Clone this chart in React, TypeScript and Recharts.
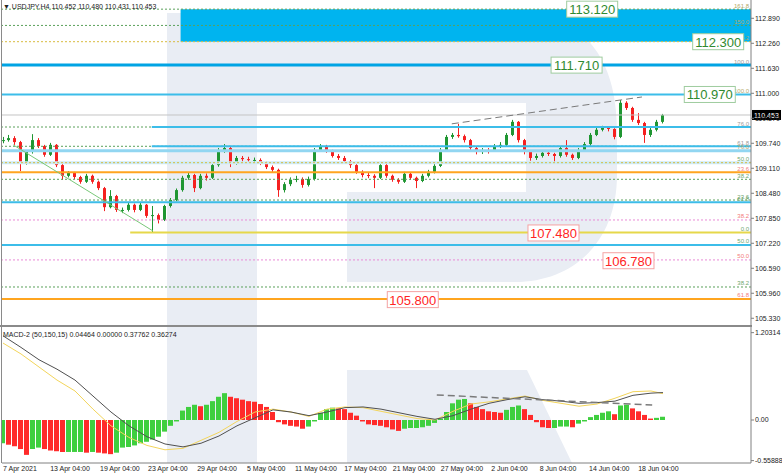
import React from "react";
import {
  ComposedChart,
  Bar,
  Line,
  XAxis,
  YAxis,
  ReferenceLine,
  ReferenceArea,
  ReferenceDot,
  Cell,
} from "recharts";

const FONT = "'Liberation Sans', 'DejaVu Sans', Arial, sans-serif";

// USDJPY H4 candles, thinned out
const firstOpen = 109.8;
const closes = [
  109.82, 109.87, 109.77, 109.24, 109.52, 109.82, 109.67, 109.45, 109.7, 109.19,
  108.92, 108.99, 108.89, 108.77, 108.92, 108.77, 108.61, 108.13, 108.41, 108.06,
  108.06, 108.19, 108.06, 108.19, 107.91, 107.93, 107.81, 108.16, 108.31, 108.56,
  108.87, 108.94, 108.61, 108.92, 108.87, 109.19, 109.57, 109.62, 109.24, 109.37,
  109.34, 109.32, 109.32, 109.24, 109.14, 109.07, 108.56, 108.71, 108.82, 108.84,
  108.69, 108.84, 109.57, 109.67, 109.55, 109.42, 109.37, 109.29, 109.19, 109.02,
  108.94, 108.92, 108.87, 109.19, 108.92, 108.82, 108.77, 108.97, 108.87, 108.79,
  108.92, 109.02, 109.17, 109.57, 109.9, 109.95, 109.92, 109.82, 109.62, 109.52,
  109.57, 109.55, 109.67, 109.7, 109.95, 110.28, 109.82, 109.52, 109.37, 109.42,
  109.5, 109.47, 109.42, 109.62, 109.45, 109.37, 109.57, 109.72, 109.95, 110.08,
  110.13, 110.1, 109.9, 110.76, 110.63, 110.33, 110.25, 109.95, 110.08, 110.28,
  110.45,
];
const highs = [
  109.9, 109.95, 109.92, 109.8, 109.57, 109.97, 109.87, 109.7, 109.75, 109.72,
  109.22, 109.04, 109.02, 108.92, 108.97, 108.95, 108.8, 108.64, 108.56, 108.44,
  108.12, 108.26, 108.22, 108.26, 108.21, 108.16, 107.97, 108.19, 108.36, 108.6,
  108.92, 109.0, 108.97, 108.97, 108.98, 109.24, 109.62, 109.72, 109.65, 109.42,
  109.42, 109.4, 109.38, 109.36, 109.28, 109.18, 109.1, 108.76, 108.88, 108.92,
  108.88, 108.9, 109.62, 109.72, 109.7, 109.58, 109.47, 109.42, 109.32, 109.22,
  109.06, 109.0, 108.96, 109.24, 109.22, 108.95, 108.86, 109.02, 109.0, 108.9,
  108.97, 109.07, 109.22, 109.62, 109.95, 110.0, 110.23, 109.96, 109.85, 109.66,
  109.62, 109.62, 109.72, 109.77, 110.0, 110.33, 110.3, 109.85, 109.55, 109.48,
  109.55, 109.54, 109.5, 109.67, 109.82, 109.48, 109.62, 109.77, 110.0, 110.13,
  110.18, 110.17, 110.12, 110.83, 110.8, 110.66, 110.5, 110.28, 110.13, 110.33,
  110.48,
];
const lows = [
  109.74, 109.78, 109.7, 109.04, 109.2, 109.48, 109.62, 109.4, 109.42, 109.14,
  108.82, 108.88, 108.84, 108.72, 108.74, 108.72, 108.56, 108.03, 108.1, 108.01,
  107.98, 108.02, 108.0, 108.03, 107.86, 107.5, 107.72, 107.78, 108.12, 108.28,
  108.52, 108.82, 108.51, 108.58, 108.8, 108.84, 109.15, 109.5, 109.14, 109.2,
  109.28, 109.26, 109.25, 109.19, 109.09, 109.02, 108.39, 108.5, 108.66, 108.76,
  108.62, 108.65, 108.8, 109.52, 109.5, 109.38, 109.32, 109.24, 109.12, 108.97,
  108.88, 108.86, 108.61, 108.84, 108.87, 108.77, 108.72, 108.74, 108.82, 108.61,
  108.76, 108.88, 108.98, 109.14, 109.54, 109.85, 109.88, 109.76, 109.57, 109.46,
  109.47, 109.48, 109.52, 109.62, 109.66, 109.92, 109.76, 109.46, 109.3, 109.32,
  109.38, 109.42, 109.24, 109.38, 109.4, 109.32, 109.34, 109.52, 109.68, 109.92,
  110.04, 110.04, 109.84, 109.87, 110.58, 110.28, 110.2, 109.75, 109.9, 110.04,
  110.24,
];

// MACD-2 (50,150,15)
const macdHist = [
  -0.32, -0.34, -0.36, -0.4, -0.48, -0.4, -0.38, -0.4, -0.42, -0.43,
  -0.44, -0.44, -0.44, -0.44, -0.45, -0.44, -0.45, -0.46, -0.47, -0.45,
  -0.38, -0.37, -0.35, -0.32, -0.3, -0.27, -0.23, -0.16, -0.08, -0.02,
  0.13, 0.18, 0.21, 0.19, 0.21, 0.26, 0.32, 0.37, 0.32, 0.3,
  0.28, 0.26, 0.25, 0.22, 0.18, 0.11, -0.03, -0.06, -0.08, -0.09,
  -0.12, -0.09, -0.02, 0.1, 0.15, 0.17, 0.16, 0.15, 0.1, 0.06,
  -0.02, -0.06, -0.07, -0.08, -0.1, -0.13, -0.15, -0.12, -0.11, -0.11,
  -0.1, -0.08, -0.04, 0.02, 0.11, 0.23, 0.28, 0.29, 0.23, 0.18,
  0.15, 0.12, 0.11, 0.1, 0.14, 0.18, 0.2, 0.15, 0.07, -0.03,
  -0.1, -0.11, -0.11, -0.09, -0.09, -0.1, -0.05, -0.02, 0.04, 0.07,
  0.1, 0.12, 0.08, 0.2, 0.21, 0.16, 0.12, 0.07, 0.02, 0.03,
  0.045,
];
const macdIdx = [
  0, 3, 6, 9, 12, 15, 18, 21, 24, 27, 30, 33, 36, 39, 42, 45, 48, 51, 54,
  57, 60, 63, 66, 69, 72, 75, 78, 81, 84, 87, 90, 93, 96, 99, 102, 105, 108, 110,
];
const macdMain = [
  1.16, 1.0, 0.83, 0.7, 0.55, 0.33, 0.11, -0.08, -0.23, -0.33, -0.37, -0.32,
  -0.22, -0.08, 0.03, 0.14, 0.11, 0.06, 0.11, 0.17, 0.18, 0.15, 0.1, 0.05,
  0.01, 0.06, 0.15, 0.23, 0.28, 0.32, 0.28, 0.26, 0.23, 0.24, 0.26, 0.34,
  0.37, 0.378,
];
const macdSignal = [
  1.06, 0.91, 0.73, 0.55, 0.4, 0.15, -0.08, -0.24, -0.35, -0.41, -0.39, -0.28,
  -0.17, -0.02, 0.11, 0.15, 0.11, 0.05, 0.15, 0.18, 0.17, 0.12, 0.07, 0.02,
  0.0, 0.12, 0.22, 0.25, 0.29, 0.33, 0.27, 0.23, 0.19, 0.22, 0.3, 0.39,
  0.4, 0.363,
];

const priceTicks = [
  112.89, 112.26, 111.63, 111.0, 110.37, 109.74, 109.11, 108.48, 107.85,
  107.22, 106.59, 105.96, 105.33,
];
const macdTicks = [1.20314, 0, -0.55888];
const timeTickIdx = [
  -0.16, 7.7, 16, 24, 32.2, 40.5, 48.5, 56.7, 64.8, 72.8, 81.2, 89.3, 97.5, 105.7,
];
const timeLabels = [
  "7 Apr 2021", "13 Apr 04:00", "19 Apr 04:00", "23 Apr 04:00", "29 Apr 04:00",
  "5 May 04:00", "11 May 04:00", "17 May 04:00", "21 May 04:00", "27 May 04:00",
  "2 Jun 04:00", "8 Jun 04:00", "14 Jun 04:00", "18 Jun 04:00",
];

const lastPrice = 110.453;

// fibonacci levels: price, right-hand caption, line kind, optional start candle
const fibLevels = [
  { price: 113.12, text: "161.8", kind: "gdot", tone: "olive" },
  { price: 112.71, text: "150.0", kind: "gdot", tone: "olive" },
  { price: 112.3, text: "138.2", kind: "ydot", tone: "olive" },
  { price: 111.71, text: "100.0", kind: "cyanThick", tone: "grey" },
  { price: 110.97, text: "100.0", kind: "cyan", tone: "olive" },
  { price: 110.15, text: "76.0", kind: "gdot", tone: "grey" },
  { price: 110.15, text: "", kind: "cyan", from: 24.8 },
  { price: 109.664, text: "61.8", kind: "gdot", tone: "grey" },
  { price: 109.664, text: "", kind: "cyan", from: 24.8 },
  { price: 109.553, text: "76.0", kind: "cyanLight", tone: "olive" },
  { price: 109.251, text: "50.0", kind: "cyanPale", tone: "green" },
  { price: 109.251, text: "", kind: "ydot" },
  { price: 109.009, text: "23.6", kind: "orange", tone: "pink" },
  { price: 108.832, text: "38.2", kind: "gdot", tone: "green" },
  { price: 108.31, text: "23.6", kind: "gdot", tone: "green" },
  { price: 108.253, text: "61.8", kind: "cyan", tone: "green" },
  { price: 107.807, text: "38.2", kind: "pdot", tone: "pink" },
  { price: 107.49, text: "0.0", kind: "yellow", tone: "green", from: 21.2 },
  { price: 107.177, text: "50.0", kind: "cyan", tone: "green" },
  { price: 106.8, text: "50.0", kind: "pdot", tone: "pink" },
  { price: 106.118, text: "38.2", kind: "gdot", tone: "green" },
  { price: 105.816, text: "61.8", kind: "orange", tone: "pink" },
];

const targetZone = { from: 29.6, low: 112.3, high: 113.12 };

const priceTags = [
  { text: "113.120", price: 113.12, at: 98.2, tone: "up" },
  { text: "112.300", price: 112.3, at: 119.2, tone: "up" },
  { text: "111.710", price: 111.71, at: 95.6, tone: "up" },
  { text: "110.970", price: 110.97, at: 117.8, tone: "up" },
  { text: "107.480", price: 107.48, at: 91.75, tone: "down" },
  { text: "106.780", price: 106.78, at: 104.25, tone: "down" },
  { text: "105.800", price: 105.8, at: 68.3, tone: "down" },
];

const topTrend = [
  { i: 74.8, p: 110.23 },
  { i: 106.5, p: 110.907 },
];
const downTrend = [
  { i: 1.7, p: 109.7 },
  { i: 25, p: 107.53 },
];
const macdTrend = [
  { i: 72.3, v: 0.344 },
  { i: 108.2, v: 0.207 },
];

const X_DOMAIN: [number, number] = [-1 / 6, 124.67];
const PRICE_DOMAIN: [number, number] = [105.135, 113.351];
const MACD_DOMAIN: [number, number] = [-0.592, 1.281];

const UP = "#1f9632";
const DOWN = "#f52020";
const HIST_UP = "#3fcf3f";
const HIST_DOWN = "#ff2a2a";

const LINE_KINDS: Record<string, { stroke: string; width: number; dash?: string }> = {
  gdot: { stroke: "#5aa05a", width: 1, dash: "2 2" },
  ydot: { stroke: "#d8bc40", width: 1, dash: "2 2" },
  pdot: { stroke: "#e98ad6", width: 1, dash: "2 2" },
  cyanThick: { stroke: "#00a4e4", width: 3 },
  cyan: { stroke: "#3cbde9", width: 2 },
  cyanLight: { stroke: "#92d6f1", width: 3 },
  cyanPale: { stroke: "#cdebf6", width: 3 },
  orange: { stroke: "#ffa51f", width: 2 },
  yellow: { stroke: "#e6d84a", width: 2 },
};
const TONES: Record<string, string> = {
  olive: "#b3a867",
  grey: "#9a9a9a",
  green: "#6fa86f",
  pink: "#f37c7c",
};

const candleRows = closes.map((c, i) => ({
  i,
  o: i === 0 ? firstOpen : closes[i - 1],
  c,
  h: highs[i],
  l: lows[i],
  range: [lows[i], highs[i]],
}));

const macdRows = macdHist.map((h, i) => {
  const k = macdIdx.indexOf(i);
  return {
    i,
    hist: h,
    main: k >= 0 ? macdMain[k] : null,
    signal: k >= 0 ? macdSignal[k] : null,
  };
});

function Candle(props: any) {
  const { x, y, width, height, payload } = props;
  if (!payload || width == null) return null;
  const top = Math.min(y, y + height);
  const h = Math.abs(height);
  const span = payload.h - payload.l || 1;
  const py = (v: number) => top + ((payload.h - v) / span) * h;
  const color = payload.c >= payload.o ? UP : DOWN;
  const col = Math.round(x + width / 2 - 0.5);
  const bTop = py(Math.max(payload.o, payload.c));
  const bBot = py(Math.min(payload.o, payload.c));
  return (
    <g>
      <line x1={col + 0.5} x2={col + 0.5} y1={top} y2={top + h} stroke={color} strokeWidth={1} />
      <rect x={col - 1} y={bTop} width={3} height={Math.max(1, bBot - bTop)} fill={color} />
    </g>
  );
}

const fibCaption = (text: string, color: string) => (props: any) => {
  const vb = props.viewBox;
  if (!vb || !text) return null;
  return (
    <text
      x={vb.x + vb.width - 2}
      y={vb.y - 1.5}
      textAnchor="end"
      fontSize={6}
      fontFamily={FONT}
      fill={color}
    >
      {text}
    </text>
  );
};

const tagShape = (text: string, tone: string) => (props: any) => {
  const { cx, cy } = props;
  const up = tone === "up";
  return (
    <g>
      <rect
        x={cx - 25.5}
        y={cy - 8}
        width={51}
        height={16}
        fill="#ffffff"
        stroke={up ? "#9fcc9f" : "#f4a3a3"}
        strokeWidth={1}
      />
      <text
        x={cx}
        y={cy + 0.5}
        textAnchor="middle"
        dominantBaseline="central"
        fontSize={13}
        fontFamily={FONT}
        fill={up ? "#2f8a2f" : "#ff2424"}
      >
        {text}
      </text>
    </g>
  );
};

const lastPriceLabel = (props: any) => {
  const vb = props.viewBox;
  if (!vb) return null;
  const x = vb.x + vb.width + 1;
  return (
    <g>
      <rect x={x} y={vb.y - 5} width={29} height={10} fill="#000000" />
      <text
        x={x + 2}
        y={vb.y + 0.5}
        dominantBaseline="central"
        fontSize={7}
        fontFamily={FONT}
        fill="#ffffff"
      >
        {lastPrice.toFixed(3)}
      </text>
    </g>
  );
};

function TimeTick(props: any) {
  const { x, y, payload } = props;
  const k = timeTickIdx.indexOf(payload.value);
  return (
    <text x={x + 1} y={y + 7.5} fontSize={7} fontFamily={FONT} fill="#222" textAnchor="start">
      {k >= 0 ? timeLabels[k] : ""}
    </text>
  );
}

const axisTick = { fontSize: 7, fill: "#222", fontFamily: FONT };

export default function App() {
  return (
    <div
      style={{
        position: "absolute",
        left: 0,
        top: 0,
        width: 782,
        height: 475,
        background: "#ffffff",
        overflow: "hidden",
      }}
    >
      {/* watermark and panel frame */}
      <svg width={782} height={475} style={{ position: "absolute", left: 0, top: 0 }}>
        <g fill="#e9edf4">
          <rect x={167} y={13} width={90} height={450} />
          <path d="M257,13 H515 C585,13 617,60 617,130 V175 C617,240 575,282 515,282 H347 V192 H526 V103 H257 Z" />
          <polygon points="347,370 527,370 572,463 347,463" />
        </g>
        <line x1={1.5} x2={1.5} y1={0} y2={463} stroke="#8a8a8a" />
        <rect x={0} y={325} width={752} height={2} fill="#8a8a8a" />
      </svg>

      <div style={{ position: "absolute", left: 0, top: 0 }}>
        <ComposedChart
          width={782}
          height={326}
          data={candleRows}
          margin={{ top: 0, right: 0, bottom: 0, left: 2 }}
        >
          <XAxis type="number" dataKey="i" domain={X_DOMAIN} allowDataOverflow hide />
          <YAxis
            orientation="right"
            width={31}
            domain={PRICE_DOMAIN}
            allowDataOverflow
            ticks={priceTicks}
            interval={0}
            tickFormatter={(v: number) => v.toFixed(3)}
            tick={axisTick}
            tickSize={3}
            tickMargin={1}
            stroke="#808080"
          />
          <ReferenceArea
            x1={targetZone.from}
            x2={X_DOMAIN[1]}
            y1={targetZone.low}
            y2={targetZone.high}
            fill="#00b4ef"
            fillOpacity={1}
            stroke="none"
          />
          {fibLevels.map((lv, k) => {
            const st = LINE_KINDS[lv.kind];
            const common = {
              stroke: st.stroke,
              strokeWidth: st.width,
              strokeDasharray: st.dash,
              label: fibCaption(lv.text, TONES[lv.tone || "grey"]),
            };
            return lv.from != null ? (
              <ReferenceLine
                key={k}
                segment={[
                  { x: lv.from, y: lv.price },
                  { x: X_DOMAIN[1], y: lv.price },
                ]}
                {...common}
              />
            ) : (
              <ReferenceLine key={k} y={lv.price} {...common} />
            );
          })}
          <ReferenceLine y={lastPrice} stroke="#c4c4c4" strokeWidth={1} label={lastPriceLabel} />
          <ReferenceLine
            segment={topTrend.map((d) => ({ x: d.i, y: d.p }))}
            stroke="#7a7a7a"
            strokeDasharray="7 4"
          />
          <ReferenceLine
            segment={downTrend.map((d) => ({ x: d.i, y: d.p }))}
            stroke="#79c879"
            strokeWidth={1}
          />
          <Bar dataKey="range" barSize={4} shape={<Candle />} isAnimationActive={false} />
          {priceTags.map((t, k) => (
            <ReferenceDot
              key={k}
              x={t.at}
              y={t.price}
              r={1}
              shape={tagShape(t.text, t.tone)}
            />
          ))}
        </ComposedChart>
      </div>

      <div style={{ position: "absolute", left: 0, top: 327 }}>
        <ComposedChart
          width={782}
          height={148}
          data={macdRows}
          margin={{ top: 0, right: 0, bottom: 0, left: 2 }}
        >
          <XAxis
            type="number"
            dataKey="i"
            domain={X_DOMAIN}
            allowDataOverflow
            ticks={timeTickIdx}
            interval={0}
            height={12}
            tickSize={0}
            tickMargin={0}
            tick={<TimeTick />}
            stroke="#808080"
          />
          <YAxis
            orientation="right"
            width={31}
            domain={MACD_DOMAIN}
            allowDataOverflow
            ticks={macdTicks}
            interval={0}
            tickFormatter={(v: number) => (v === 0 ? "0.00" : v.toFixed(5))}
            tick={axisTick}
            tickSize={3}
            tickMargin={1}
            stroke="#808080"
          />
          <Bar dataKey="hist" barSize={5} isAnimationActive={false}>
            {macdRows.map((r, k) => (
              <Cell
                key={k}
                fill={k > 0 && r.hist < macdRows[k - 1].hist ? HIST_DOWN : HIST_UP}
              />
            ))}
          </Bar>
          <Line
            dataKey="signal"
            stroke="#f3d55a"
            strokeWidth={1}
            dot={false}
            connectNulls
            isAnimationActive={false}
          />
          <Line
            dataKey="main"
            stroke="#505050"
            strokeWidth={1}
            dot={false}
            connectNulls
            isAnimationActive={false}
          />
          <ReferenceLine
            segment={macdTrend.map((d) => ({ x: d.i, y: d.v }))}
            stroke="#7a7a7a"
            strokeWidth={1.5}
            strokeDasharray="7 4"
          />
        </ComposedChart>
      </div>

      {/* window captions */}
      <svg
        width={782}
        height={475}
        style={{ position: "absolute", left: 0, top: 0, pointerEvents: "none" }}
      >
        <text x={3} y={8.5} fontSize={7} fontFamily={FONT} fill="#222">
          {"\u25BC USDJPY,H4  110.452 110.480 110.431 110.453"}
        </text>
        <text x={3} y={337} fontSize={7} fontFamily={FONT} fill="#222">
          MACD-2 (50,150,15) 0.04464 0.00000 0.37762 0.36274
        </text>
      </svg>
    </div>
  );
}
